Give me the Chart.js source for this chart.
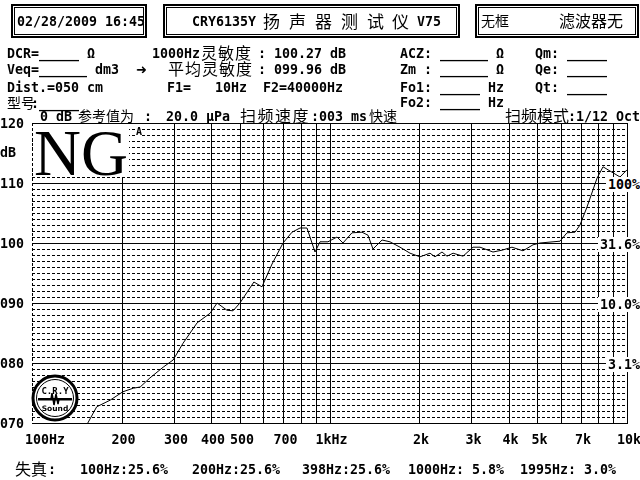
<!DOCTYPE html>
<html>
<head>
<meta charset="utf-8">
<script src="https://cdn.jsdelivr.net/npm/chart.js@4"></script>
<style>
  body { margin: 0; background: #fff; }
  #wrap { position: relative; width: 640px; height: 480px; overflow: hidden; background: #fff; }
  #chart { position: absolute; left: 0; top: 0; }
  .t { position: absolute; font-family: "DejaVu Sans Mono", monospace; font-weight: bold; white-space: pre; color: #000; }
  .z { position: absolute; font-family: "Noto Sans CJK SC", sans-serif; white-space: pre; color: #000; }
  .box { position: absolute; border: 2px solid #000; box-sizing: border-box; }
  .box i { position: absolute; left: 1px; top: 1px; right: 1px; bottom: 1px; border: 1px solid #000; }
</style>
</head>
<body>
<div id="wrap">
  <canvas id="chart" width="640" height="480"></canvas>
  <div class="box" style="left:11px;top:4px;width:136px;height:34px"><i></i></div>
  <div class="box" style="left:163px;top:4px;width:297px;height:34px"><i></i></div>
  <div class="box" style="left:475px;top:4px;width:164px;height:34px"><i></i></div>
  <div style="position:absolute;left:33px;top:124px;width:96px;height:53px;background:#fff"></div>
  <span style="position:absolute;left:34px;top:121px;font:65px 'Liberation Serif',serif;line-height:65px">NG</span>
  <svg style="position:absolute;left:31px;top:374px" width="48" height="48" viewBox="0 0 48 48">
    <circle cx="24" cy="24" r="22" fill="#fff" stroke="#000" stroke-width="3"/>
    <circle cx="24" cy="24" r="18.5" fill="none" stroke="#000" stroke-width="1"/>
    <text x="24" y="20" text-anchor="middle" font-family="DejaVu Sans Mono" font-weight="bold" font-size="9">C.R.Y</text>
    <rect x="7" y="24" width="34" height="2.5" fill="#000"/>
    <polyline points="17,25 20,25 21,19 23,31 25,20 27,30 28,25 31,25" fill="none" stroke="#000" stroke-width="1.5"/>
    <text x="24" y="37" text-anchor="middle" font-family="DejaVu Sans" font-weight="bold" font-size="7.5">Sound</text>
  </svg>
</div>
<script>
// 频响曲线 (Hz / dB)
const freqs = [154, 165, 183, 202, 219, 231, 249, 276, 298, 322, 359, 397, 419, 452, 474, 500,
  557, 593, 641, 698, 748, 796, 840, 894, 929, 988, 1060, 1110, 1190, 1286, 1347, 1400,
  1502, 1597, 1726, 1865, 2015, 2177, 2262, 2389, 2483, 2602, 2810, 3037, 3206, 3544,
  3800, 4105, 4472, 4831, 5100, 5641, 5955, 6284, 6687, 6950, 7338, 7930, 8306, 8973, 9474, 10000];
const spl = [70, 72.7, 73.8, 75.2, 75.8, 76, 77.5, 79.3, 80.5, 83.3, 86.7, 88.3, 90, 88.8, 88.7, 90,
  93.5, 92.7, 96.5, 100, 101.8, 102.5, 102.5, 98.5, 100.2, 100.2, 101, 100, 101.7, 101.8, 101.3, 99,
  100.5, 100.2, 99.3, 98.3, 97.7, 98.3, 97.7, 98.5, 97.8, 98.3, 97.8, 99.3, 99.3, 98.5,
  98.8, 99.3, 98.7, 99.7, 100, 100.2, 100.3, 101.7, 101.8, 103, 106, 110.8, 112.7, 111.7, 111, 112.2];

// 刻度
const dbTicks = [120, 110, 100, 90, 80, 70];
const dbLabels = ["120", "110", "100", "090", "080", "070"];
const freqTicks = [100, 200, 300, 400, 500, 700, 1000, 2000, 3000, 4000, 5000, 7000, 10000];
const freqLabels = ["100Hz", "200", "300", "400", "500", "700", "1kHz", "2k", "3k", "4k", "5k", "7k", "10k"];
const gridFreqs = [100, 200, 300, 400, 500, 600, 700, 800, 900, 1000, 2000, 3000, 4000, 5000, 6000, 7000, 8000, 9000, 10000];

// 失真刻度 (右侧) 和 失真读数 (底部)
const thdLevels = [110, 100, 90, 80];
const thdLabels = ["100%", "31.6%", "10.0%", "3.1%"];
const thdReadings = ["100Hz:25.6%", "200Hz:25.6%", "398Hz:25.6%", "1000Hz: 5.8%", "1995Hz: 3.0%"];

const wrap = document.getElementById("wrap");

function put(x, cy, s, size, cjk, extra) {
  const el = document.createElement("span");
  el.className = cjk ? "z" : "t";
  el.textContent = s;
  el.style.left = x + "px";
  el.style.fontSize = size + "px";
  el.style.lineHeight = size + "px";
  el.style.top = (cy - (cjk ? 0.556 : 0.48) * size) + "px";
  if (extra) Object.assign(el.style, extra);
  wrap.appendChild(el);
  return el;
}

// 网格
const gridPlugin = {
  id: "grid",
  beforeDatasetsDraw(chart) {
    const { ctx, chartArea: a, scales: { x, y } } = chart;
    ctx.save();
    ctx.strokeStyle = "#000";
    ctx.lineWidth = 1;
    for (let v = 70; v <= 120; v++) {
      const py = Math.round(y.getPixelForValue(v)) + 0.5;
      ctx.setLineDash(v % 10 ? [3, 2] : []);
      ctx.beginPath();
      ctx.moveTo(a.left, py);
      ctx.lineTo(a.right + 1, py);
      ctx.stroke();
    }
    gridFreqs.forEach((f, i) => {
      const px = Math.round(x.getPixelForValue(f)) + 0.5;
      ctx.setLineDash(i === 0 ? [3, 2] : []);
      ctx.beginPath();
      ctx.moveTo(px, a.top);
      ctx.lineTo(px, a.bottom + 1);
      ctx.stroke();
    });
    ctx.restore();
  }
};

const chart = new Chart(document.getElementById("chart"), {
  type: "line",
  data: {
    labels: freqs,
    datasets: [{
      data: freqs.map((f, i) => ({ x: f, y: spl[i] })),
      borderColor: "#000",
      borderWidth: 1,
      pointRadius: 0,
      tension: 0,
      fill: false
    }]
  },
  options: {
    responsive: false,
    animation: false,
    devicePixelRatio: 1,
    layout: { padding: { left: 32, top: 123, right: 13, bottom: 57 } },
    plugins: { legend: { display: false }, tooltip: { enabled: false } },
    scales: {
      x: { type: "logarithmic", min: 100, max: 10000, display: false },
      y: { type: "linear", min: 70, max: 120, display: false }
    }
  },
  plugins: [gridPlugin]
});

const xs = chart.scales.x, ys = chart.scales.y;

// 坐标标签
dbTicks.forEach((v, i) => put(0, ys.getPixelForValue(v), dbLabels[i], 13.3));
put(0, 152, "dB", 13.3);
freqTicks.forEach((f, i) => {
  const px = xs.getPixelForValue(f);
  const el = put(0, 439, freqLabels[i], 13.3);
  const w = el.getBoundingClientRect().width;
  el.style.left = (i === 0 ? px - 7 : px + 2 - w / 2) + "px";
});
thdLevels.forEach((v, i) => {
  const el = put(0, ys.getPixelForValue(v), thdLabels[i], 13.3, false, { background: "#fff", padding: "1px 0 1px 2px" });
  const w = el.getBoundingClientRect().width;
  el.style.left = (640 - w) + "px";
});
put(136, 131.5, "A", 10, false, { background: "#fff" });

// 顶部框
put(17, 21, "02/28/2009 16:45", 13.3);
put(192, 21, "CRY6135Y", 13.3);
[["扬", 263], ["声", 289], ["器", 315], ["测", 341], ["试", 367], ["仪", 392]].forEach(c => put(c[1], 21, c[0], 17, true));
put(417, 21, "V75", 13.3);
put(481, 21, "无框", 14, true);
put(559, 21, "滤波器无", 16, true);

// 参数
put(7, 53, "DCR=_____", 13.3);
put(87, 53, "Ω", 13.3);
put(152, 53, "1000Hz", 13.3);
put(201, 53, "灵敏度", 16, true, { letterSpacing: "1px" });
put(258, 53, ": 100.27 dB", 13.3);
put(400, 53, "ACZ: ______ Ω", 13.3);
put(535, 53, "Qm:", 13.3);
put(567, 53, "_____", 13.3);

put(7, 69, "Veq=______ dm3", 13.3);
put(136, 69, "➜", 13, false, { fontFamily: "DejaVu Sans" });
put(168, 69, "平均灵敏度", 16, true, { letterSpacing: "1px" });
put(258, 69, ": 099.96 dB", 13.3);
put(400, 69, "Zm : ______ Ω", 13.3);
put(535, 69, "Qe:", 13.3);
put(567, 69, "_____", 13.3);

put(7, 87, "Dist.=050 cm", 13.3);
put(167, 87, "F1=   10Hz  F2=40000Hz", 13.3);
put(400, 87, "Fo1: _____ Hz", 13.3);
put(535, 87, "Qt:", 13.3);
put(567, 87, "_____", 13.3);

put(7, 103, "型号", 14, true);
put(31, 103, ":_____", 13.3);
put(400, 102, "Fo2: _____ Hz", 13.3);

put(40, 116, "0 dB", 13.3);
put(78, 116, "参考值为", 14, true);
put(144, 116, ":", 13.3);
put(166, 116, "20.0 μPa", 13.3);
put(240, 116, "扫频速度", 16, true, { letterSpacing: "1.5px" });
put(311, 116, ":", 13.3);
put(319, 116, "003 ms", 13.3);
put(369, 116, "快速", 14, true);
put(505, 116, "扫频模式", 16, true);
put(568, 116, ":1/12 Oct", 13.3);

// 失真
put(15, 469, "失真", 16, true);
put(48, 469, ":", 13.3);
[80, 192, 302, 408, 520].forEach((x, i) => put(x, 469, thdReadings[i], 13.3));
</script>
</body>
</html>
